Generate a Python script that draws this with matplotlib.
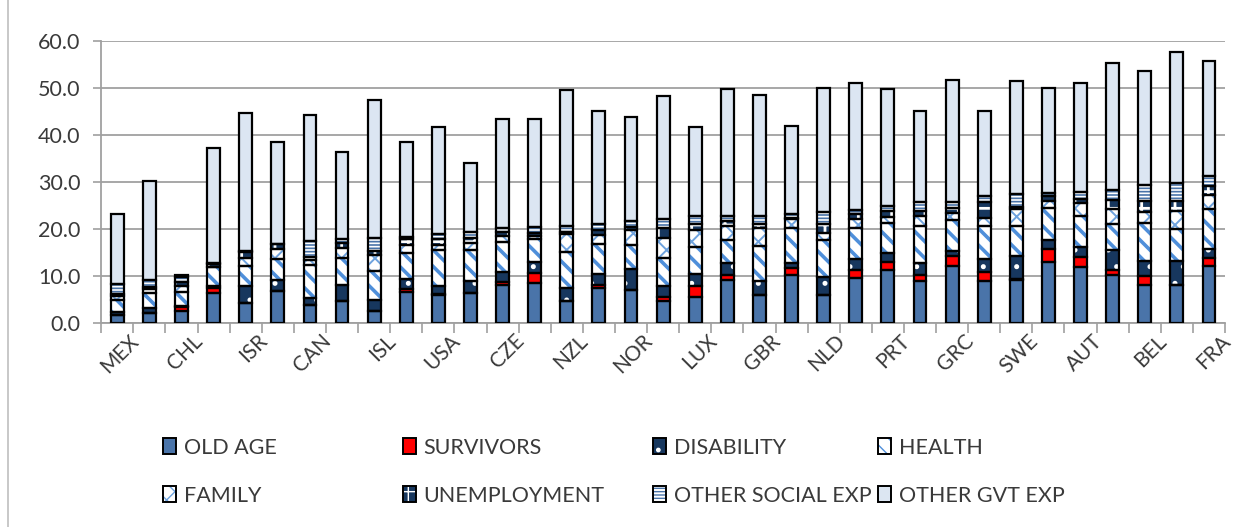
import matplotlib.pyplot as plt
import numpy as np
from matplotlib.lines import Line2D
from matplotlib.patches import Patch

countries = ['MEX', 'KOR', 'CHL', 'TUR', 'ISR', 'AUS', 'CAN', 'SVK', 'ISL',
             'JPN', 'USA', 'CHE', 'CZE', 'EST', 'NZL', 'POL', 'NOR', 'IRL',
             'LUX', 'DEU', 'GBR', 'ESP', 'NLD', 'SVN', 'PRT', 'HUN', 'GRC',
             'ESP2', 'SWE', 'ITA', 'AUT', 'FIN', 'BEL', 'DNK', 'FRA']

old_age = [1.6, 2.0, 2.5, 6.3, 4.1, 6.8, 3.8, 4.5, 2.4, 6.6, 5.9, 6.3,
           8.0, 8.5, 4.5, 7.3, 6.9, 4.5, 5.4, 9.0, 5.9, 10.2, 5.9, 9.5,
           11.3, 8.8, 12.1, 8.8, 9.0, 12.9, 11.8, 10.2, 8.1, 8.1, 12.0]
survivors = [0.0, 0.0, 0.9, 1.1, 0.1, 0.0, 0.0, 0.0, 0.0, 0.6, 0.1, 0.0,
             0.6, 2.1, 0.0, 0.6, 0.0, 1.0, 2.3, 1.2, 0.0, 1.4, 0.0, 1.8,
             1.6, 1.4, 2.1, 1.9, 0.3, 2.8, 2.1, 0.9, 1.8, 0.0, 1.8]
disability = [0.7, 1.0, 0.2, 0.3, 3.5, 2.3, 1.4, 3.6, 2.5, 2.0, 1.8, 2.6,
              2.1, 2.4, 2.8, 2.5, 4.5, 2.2, 2.6, 2.5, 2.9, 1.1, 3.8, 2.3,
              2.0, 2.5, 1.1, 2.9, 4.8, 1.9, 2.1, 4.3, 3.2, 5.0, 1.9]
health = [2.4, 3.3, 2.9, 4.1, 4.3, 4.4, 7.1, 5.7, 6.0, 5.7, 7.7, 6.6,
          6.4, 4.8, 7.8, 6.3, 5.2, 6.1, 5.7, 4.9, 7.5, 7.5, 7.8, 6.6,
          6.3, 7.9, 6.6, 7.0, 6.4, 6.9, 6.8, 5.7, 8.1, 6.8, 8.4]
family = [1.0, 0.9, 1.2, 0.1, 1.8, 2.1, 1.1, 2.1, 3.6, 1.6, 1.1, 1.4,
          1.4, 0.6, 3.7, 1.9, 3.2, 4.3, 3.8, 3.0, 3.9, 1.8, 1.6, 1.8,
          1.2, 2.1, 1.4, 1.6, 3.6, 1.4, 2.7, 3.0, 2.4, 3.9, 3.0]
unemployment = [0.4, 0.3, 0.9, 0.6, 1.2, 1.1, 0.6, 1.1, 0.7, 1.3, 1.2, 1.1,
                0.7, 0.7, 0.6, 1.1, 0.6, 2.1, 1.1, 1.1, 0.7, 0.3, 1.8, 1.1,
                1.4, 1.1, 1.1, 3.4, 0.6, 1.1, 0.9, 2.1, 2.4, 2.1, 2.1]
other_social = [2.1, 1.6, 1.0, 0.1, 0.2, 0.1, 3.3, 0.9, 2.9, 0.5, 1.1, 1.4,
                0.9, 1.3, 1.2, 1.4, 1.2, 1.9, 1.8, 1.1, 1.8, 0.8, 2.6, 0.9,
                1.0, 1.8, 1.3, 1.4, 2.8, 0.6, 1.4, 2.1, 3.4, 3.9, 2.0]
other_gvt = [15.0, 21.0, 0.5, 24.6, 29.5, 21.6, 27.0, 18.4, 29.4, 20.1, 22.7, 14.6,
             23.3, 23.0, 29.0, 24.1, 22.3, 26.2, 18.9, 27.0, 25.9, 18.9, 26.5, 27.0,
             24.9, 19.6, 26.1, 18.2, 24.0, 22.4, 23.2, 27.1, 24.2, 27.9, 24.6]

labels = ['OLD AGE', 'SURVIVORS', 'DISABILITY', 'HEALTH', 'FAMILY',
          'UNEMPLOYMENT', 'OTHER SOCIAL EXP', 'OTHER GVT EXP']
yticks = [0, 10, 20, 30, 40, 50, 60]

# face colour, hatch colour, hatch, hatch linewidth
styles = [
    ('#4A74A9', '#4A74A9', None, 1.0),
    ('#FF0000', '#FF0000', None, 1.0),
    ('#17375E', 'white', '.', 1.2),
    ('white', '#4F8FDA', '\\\\', 2.6),
    ('white', '#6FA3DE', 'xx', 1.4),
    ('#17375E', 'white', '+', 2.0),
    ('white', '#4A74A9', '-----', 1.2),
    ('#DCE6F2', '#DCE6F2', None, 1.0),
]

TEXT = '#3A3A3A'
GRID = '#A0A0A0'


def main():
    plt.rcParams['font.family'] = ['Lato', 'DejaVu Sans']
    series = [old_age, survivors, disability, health, family,
              unemployment, other_social, other_gvt]

    fig = plt.figure(figsize=(12.5, 5.27), dpi=100)
    ax = fig.add_axes([0.081, 0.388, 0.899, 0.534])

    x = np.arange(len(countries))
    width = 0.4
    bottom = np.zeros(len(countries))
    handles = []
    for vals, lab, (face, hcol, hatch, hlw) in zip(series, labels, styles):
        vals = np.array(vals)
        with plt.rc_context({'hatch.linewidth': hlw}):
            ax.bar(x, vals, width, bottom=bottom, color=face, edgecolor=hcol,
                   hatch=hatch, linewidth=0, zorder=2)
            hp = Patch(facecolor=face, edgecolor=hcol, hatch=hatch, linewidth=0)
        ax.bar(x, vals, width, bottom=bottom, fill=False, edgecolor='black',
               linewidth=1.6, zorder=3)
        op = Patch(fill=False, edgecolor='black', linewidth=1.4)
        handles.append(((hp, op), lab))
        bottom += vals

    ax.set_ylim(0, 60)
    ax.set_xlim(-0.5, len(countries) - 0.5)
    ax.set_yticks(yticks)
    ax.set_yticklabels([f'{v:.1f}' for v in yticks], fontsize=15.5, color=TEXT)
    ax.yaxis.grid(True, color=GRID, linewidth=1.3, zorder=0)
    ax.set_axisbelow(True)

    # labels on every other bar; nudged right like Excel's rotated labels
    ax.set_xticks(x[::2] + 0.35)
    ax.set_xticklabels(countries[::2], rotation=45, ha='right', va='top',
                       rotation_mode='anchor', fontsize=15, color=TEXT)
    ax.set_xticks(np.arange(-0.5, len(countries), 1), minor=True)
    ax.tick_params(axis='x', which='major', length=0, pad=6)
    ax.tick_params(axis='x', which='minor', length=7, color=GRID, width=1.2)
    ax.tick_params(axis='y', length=6, color=GRID, width=1.2, pad=9)

    for side in ['top', 'right']:
        ax.spines[side].set_visible(False)
    for side in ['left', 'bottom']:
        ax.spines[side].set_color(GRID)
        ax.spines[side].set_linewidth(1.3)

    # one legend per column, two rows each
    col_x = [0.122, 0.314, 0.514, 0.694]
    for i, cx in enumerate(col_x):
        pair = [handles[i], handles[i + 4]]
        fig.legend([h for h, _ in pair], [l for _, l in pair],
                   loc='upper left', bbox_to_anchor=(cx, 0.19),
                   frameon=False, fontsize=15.5, labelcolor=TEXT,
                   handlelength=0.6, handleheight=0.75, handletextpad=0.35,
                   labelspacing=1.3, borderpad=0)

    fig.add_artist(Line2D([0.0065, 0.0065], [0, 1], color='#BFBFBF',
                          linewidth=1.2))

    plt.savefig('out.png', dpi=100)


if __name__ == '__main__':
    main()
